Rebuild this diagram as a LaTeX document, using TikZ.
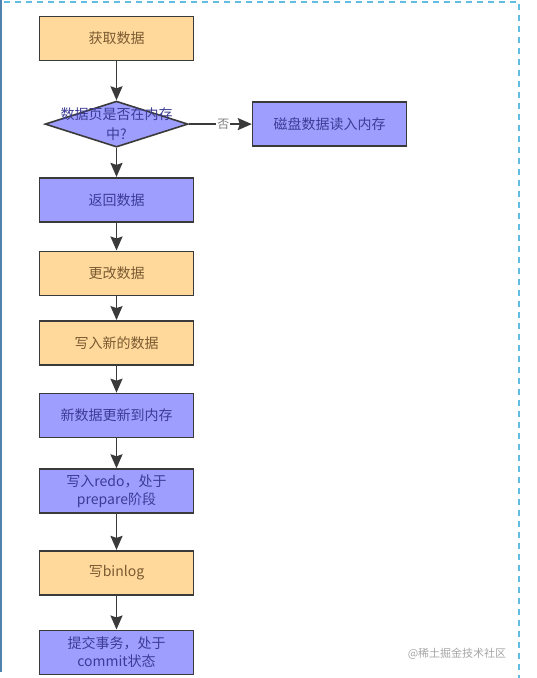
\documentclass[tikz,border=0pt]{standalone}
\usepackage{fontspec}
\setmainfont{Noto Sans CJK SC}
\usetikzlibrary{arrows.meta, positioning, shapes.geometric}

\definecolor{fillor}{HTML}{FFD99C}
\definecolor{fillbl}{HTML}{9E9EFF}
\definecolor{edgegray}{HTML}{3A3A3A}
\definecolor{txtbrown}{HTML}{7A5A30}
\definecolor{txtblue}{HTML}{3C3C96}
\definecolor{frameblue}{HTML}{4F83AE}
\definecolor{framedash}{HTML}{62BDE3}

\begin{document}
\begin{tikzpicture}[x=1pt, y=1pt,
        box/.style={rectangle, draw=edgegray, line width=1.6pt, minimum width=154pt, minimum height=44pt, align=center, font=\fontsize{14}{18}\selectfont},
        orbox/.style={box, fill=fillor, text=txtbrown},
        blbox/.style={box, fill=fillbl, text=txtblue},
        decision/.style={diamond, draw=edgegray, line width=1.6pt, fill=fillbl, minimum width=143pt, minimum height=46pt, inner sep=0pt},
        dtext/.style={align=center, text=txtblue, font=\fontsize{14}{20}\selectfont},
        nolabel/.style={fill=white, text=gray, inner sep=1pt, font=\fontsize{12}{12}\selectfont},
        wmark/.style={text=gray!70, font=\fontsize{11}{11}\selectfont},
        arr/.style={-{Stealth[length=14pt, width=12pt, inset=2pt]}, line width=1.8pt, draw=edgegray},
        node distance=28pt
        ]
        \useasboundingbox (0,0) rectangle (537,-678);
        % frame
        \draw[frameblue, line width=1.5pt] (1,0) -- (1,-672);
        \draw[framedash, line width=1.5pt, dash pattern=on 6pt off 5pt] (4,-2) -- (519,-2) -- (519,-678);

        \node[orbox] (get) at (116.5,-38.5) {获取数据};
        \node[decision, below=39pt of get] (check) {};
        \node[dtext] (checktxt) at (check) {数据页是否在内存\\中?};
        \node[blbox, right=63pt of check] (load) {磁盘数据读入内存};
        \node[blbox, below=29pt of check] (ret) {返回数据};
        \node[orbox, below=28pt of ret] (modify) {更改数据};
        \node[orbox, below=24pt of modify] (write) {写入新的数据};
        \node[blbox, below=27pt of write] (mem) {新数据更新到内存};
        \node[blbox, below=30pt of mem] (redo) {写入redo，处于\\prepare阶段};
        \node[orbox, below=36pt of redo] (binlog) {写binlog};
        \node[blbox, below=34pt of binlog] (commit) {提交事务，处于\\commit状态};

        \draw[arr] (get) -- (check);
        \draw[arr] (check) -- node[nolabel, pos=0.55] (no) {否} (load);
        \draw[arr] (check) -- (ret);
        \draw[arr] (ret) -- (modify);
        \draw[arr] (modify) -- (write);
        \draw[arr] (write) -- (mem);
        \draw[arr] (mem) -- (redo);
        \draw[arr] (redo) -- (binlog);
        \draw[arr] (binlog) -- (commit);

        \node[wmark] (wm) at (457,-654) {@稀土掘金技术社区};
    \end{tikzpicture}
\end{document}
